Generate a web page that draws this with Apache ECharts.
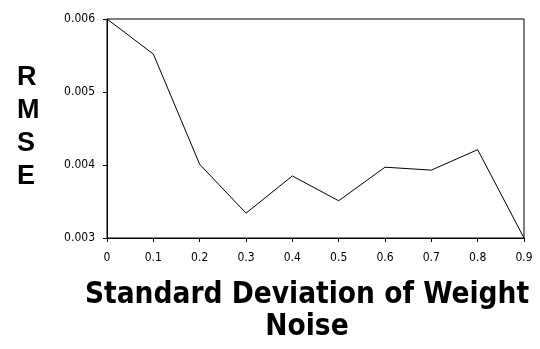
<!DOCTYPE html>
<html>
<head>
<meta charset="utf-8">
<script src="https://cdn.jsdelivr.net/npm/echarts@6/dist/echarts.min.js"></script>
<style>
  html, body { margin: 0; padding: 0; background: #fff; }
  #main { width: 540px; height: 349px; }
</style>
</head>
<body>
<div id="main"></div>
<script>
// x: standard deviation of weight noise, y: RMSE
var noiseStd = [0, 0.1, 0.2, 0.3, 0.4, 0.5, 0.6, 0.7, 0.8, 0.9];
var rmse = [0.006, 0.00552, 0.00401, 0.00334, 0.00385, 0.00351, 0.00397, 0.00393, 0.00421, 0.003];

var chart = echarts.init(document.getElementById('main'));

var labelFont = {
  color: '#000',
  fontSize: 12,
  fontFamily: 'Liberation Sans Narrow, DejaVu Sans Condensed'
};

var option = {
  backgroundColor: '#fff',
  animation: false,
  title: {
    text: 'R\nM\nS\nE',
    left: 12,
    top: 56,
    textStyle: {
      fontSize: 27,
      fontWeight: 'bold',
      fontFamily: 'Liberation Sans',
      lineHeight: 33,
      color: '#000'
    }
  },
  grid: {
    left: 107,
    right: 16,
    top: 19,
    bottom: 111,
    outerBoundsMode: 'none',
    containLabel: false,
    show: true,
    borderColor: '#000',
    borderWidth: 1
  },
  xAxis: {
    type: 'value',
    min: 0,
    max: 0.9,
    interval: 0.1,
    name: 'Standard Deviation of Weight\nNoise',
    nameLocation: 'middle',
    nameGap: 41,
    nameTextStyle: {
      fontSize: 29.5,
      fontWeight: 'bold',
      fontFamily: 'DejaVu Sans Condensed',
      lineHeight: 32,
      color: '#000',
      padding: [0, 17, 0, 0]
    },
    axisLine: { lineStyle: { color: '#000', width: 1 } },
    axisTick: { show: true, inside: false, length: 4, lineStyle: { color: '#000' } },
    splitLine: { show: false },
    axisLabel: Object.assign({ margin: 14 }, labelFont)
  },
  yAxis: {
    type: 'value',
    min: 0.003,
    max: 0.006,
    interval: 0.001,
    axisLine: { show: true, lineStyle: { color: '#000', width: 1 } },
    axisTick: { show: true, length: 4, lineStyle: { color: '#000' } },
    splitLine: { show: false },
    axisLabel: Object.assign({
      margin: 12,
      formatter: function (v) { return v.toFixed(3); }
    }, labelFont)
  },
  series: [{
    type: 'line',
    data: noiseStd.map(function (x, i) { return [x, rmse[i]]; }),
    showSymbol: false,
    lineStyle: { color: '#000', width: 1 }
  }]
};

chart.setOption(option);
</script>
</body>
</html>
